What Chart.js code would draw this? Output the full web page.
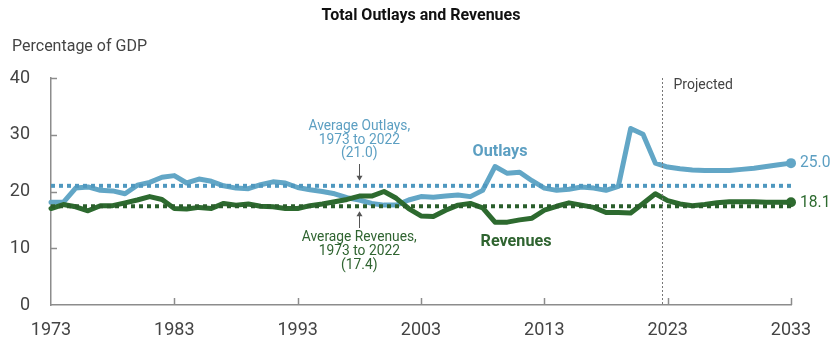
<!DOCTYPE html>
<html>
<head>
<meta charset="utf-8">
<script src="https://cdn.jsdelivr.net/npm/chart.js@4"></script>
<style>
  html, body { margin: 0; padding: 0; background: #fff; }
  #wrap { width: 834px; height: 345px; position: relative; }
</style>
</head>
<body>
<div id="wrap"><canvas id="c" width="834" height="345"></canvas></div>
<script>
// Federal outlays and revenues as a share of GDP, actual 1973-2022, projected 2023-2033
const years = [];
for (let y = 1973; y <= 2033; y++) years.push(y);

const outlays = [
  18.1, 18.1, 20.6, 20.8, 20.2, 20.1, 19.6, 21.1, 21.6, 22.5,
  22.8, 21.5, 22.2, 21.8, 21.0, 20.6, 20.5, 21.2, 21.7, 21.5,
  20.7, 20.3, 20.0, 19.6, 18.9, 18.5, 17.9, 17.6, 17.6, 18.5,
  19.1, 19.0, 19.2, 19.4, 19.1, 20.2, 24.4, 23.2, 23.4, 21.9,
  20.6, 20.2, 20.4, 20.8, 20.6, 20.2, 20.9, 31.1, 30.1, 25.0,
  24.3, 24.0, 23.8, 23.7, 23.7, 23.7, 23.9, 24.1, 24.4, 24.7, 25.0
];

const revenues = [
  17.0, 17.7, 17.3, 16.6, 17.5, 17.5, 18.0, 18.5, 19.1, 18.6,
  17.0, 16.9, 17.2, 17.0, 17.9, 17.6, 17.8, 17.4, 17.3, 17.0,
  17.0, 17.5, 17.8, 18.2, 18.6, 19.2, 19.2, 20.0, 18.8, 17.0,
  15.7, 15.6, 16.7, 17.6, 17.9, 17.1, 14.6, 14.6, 15.0, 15.3,
  16.7, 17.4, 18.0, 17.6, 17.2, 16.3, 16.3, 16.2, 17.9, 19.6,
  18.4, 17.8, 17.5, 17.7, 18.0, 18.2, 18.2, 18.2, 18.1, 18.1, 18.1
];

const avgOutlays = 21.0;
const avgRevenues = 17.4;
const avgSpan = [1973, 2033];
const projectionStart = 2022.5;
const xTicks = [1973, 1983, 1993, 2003, 2013, 2023, 2033];
const yTicks = [0, 10, 20, 30, 40];

const BLUE = '#62a6c6';
const BLUE_TEXT = '#5c9fc2';
const GREEN = '#2d6a2f';
const GREEN_TEXT = '#2f6430';
const AXIS = '#8c8c8c';
const TEXT = '#444444';
const FONT = 'Roboto, sans-serif';

const pts = (vals) => vals.map((v, i) => ({ x: years[i], y: v }));
const lastOnly = (vals) => vals.map((v, i) => (i === vals.length - 1 ? 5 : 0));

// text squeezed horizontally for a condensed look
function narrowText(ctx, s, x, y, sx) {
  ctx.save();
  ctx.translate(x, y);
  ctx.scale(sx, 1);
  ctx.fillText(s, 0, 0);
  ctx.restore();
}

// Inward tick marks, labels, annotations and the projection divider
const decorations = {
  id: 'decorations',
  afterDraw(chart) {
    const ctx = chart.ctx;
    const xs = chart.scales.x, ys = chart.scales.y;
    const area = chart.chartArea;
    ctx.save();

    // tick marks pointing into the plot
    ctx.strokeStyle = AXIS;
    ctx.lineWidth = 1.5;
    xTicks.slice(1).forEach(t => {
      const px = Math.round(xs.getPixelForValue(t)) + 0.5;
      ctx.beginPath(); ctx.moveTo(px, area.bottom); ctx.lineTo(px, area.bottom - 7); ctx.stroke();
    });
    yTicks.slice(1).forEach(t => {
      const py = Math.round(ys.getPixelForValue(t)) + 0.5;
      ctx.beginPath(); ctx.moveTo(area.left, py); ctx.lineTo(area.left + 6, py); ctx.stroke();
    });

    // projection divider
    const dx = Math.round(xs.getPixelForValue(projectionStart)) + 0.5;
    ctx.strokeStyle = '#777';
    ctx.lineWidth = 1;
    ctx.setLineDash([2, 2]);
    ctx.beginPath(); ctx.moveTo(dx, area.top); ctx.lineTo(dx, area.bottom); ctx.stroke();
    ctx.setLineDash([]);

    // title and axis caption
    ctx.fillStyle = '#111';
    ctx.textBaseline = 'middle';
    ctx.textAlign = 'center';
    ctx.font = 'bold 16px ' + FONT;
    ctx.fillText('Total Outlays and Revenues', 421, 16);
    ctx.textAlign = 'left';
    ctx.fillStyle = TEXT;
    ctx.font = '16px ' + FONT;
    ctx.fillText('Percentage of GDP', 12, 47);
    ctx.font = '14px ' + FONT;
    ctx.fillText('Projected', dx + 11, 85);

    // average annotations
    const ax = xs.getPixelForValue(1998);
    ctx.textAlign = 'center';
    ctx.font = '15.5px ' + FONT;
    ctx.fillStyle = BLUE_TEXT;
    ['Average Outlays,', '1973 to 2022', '(21.0)'].forEach((s, i) => narrowText(ctx, s, ax, 126.5 + i * 13.5, 0.89));
    ctx.fillStyle = GREEN_TEXT;
    ['Average Revenues,', '1973 to 2022', '(17.4)'].forEach((s, i) => narrowText(ctx, s, ax, 237.5 + i * 14, 0.89));

    // arrows to the average lines
    const arrow = (x, y0, y1) => {
      const dir = Math.sign(y1 - y0);
      ctx.strokeStyle = '#555'; ctx.fillStyle = '#555'; ctx.lineWidth = 1;
      ctx.beginPath(); ctx.moveTo(x, y0); ctx.lineTo(x, y1 - dir * 3); ctx.stroke();
      ctx.beginPath(); ctx.moveTo(x, y1); ctx.lineTo(x - 3, y1 - dir * 5); ctx.lineTo(x + 3, y1 - dir * 5); ctx.closePath(); ctx.fill();
    };
    const ax0 = Math.round(ax) + 0.5;
    arrow(ax0, 164, ys.getPixelForValue(avgOutlays) - 5);
    arrow(ax0, 228, ys.getPixelForValue(avgRevenues) + 5);

    // series labels
    ctx.font = 'bold 17px ' + FONT;
    ctx.fillStyle = BLUE_TEXT;
    narrowText(ctx, 'Outlays', 500, 152, 0.95);
    ctx.fillStyle = GREEN_TEXT;
    narrowText(ctx, 'Revenues', 516, 242, 0.95);

    // end values
    ctx.textAlign = 'left';
    ctx.font = '17px ' + FONT;
    const ex = xs.getPixelForValue(years[years.length - 1]) + 9;
    ctx.fillStyle = BLUE_TEXT;
    narrowText(ctx, outlays[outlays.length - 1].toFixed(1), ex, ys.getPixelForValue(outlays[outlays.length - 1]), 0.92);
    ctx.fillStyle = GREEN;
    narrowText(ctx, revenues[revenues.length - 1].toFixed(1), ex, ys.getPixelForValue(revenues[revenues.length - 1]), 0.92);

    ctx.restore();
  }
};

new Chart(document.getElementById('c'), {
  type: 'line',
  data: {
    datasets: [
      {
        label: 'Outlays',
        data: pts(outlays),
        borderColor: BLUE, backgroundColor: BLUE,
        borderWidth: 5, pointRadius: lastOnly(outlays), pointBorderWidth: 0,
        borderJoinStyle: 'round', borderCapStyle: 'round', tension: 0, clip: false, order: 3
      },
      {
        label: 'Revenues',
        data: pts(revenues),
        borderColor: GREEN, backgroundColor: GREEN,
        borderWidth: 5, pointRadius: lastOnly(revenues), pointBorderWidth: 0,
        borderJoinStyle: 'round', borderCapStyle: 'round', tension: 0, clip: false, order: 2
      },
      {
        label: 'Average Outlays',
        data: avgSpan.map(x => ({ x, y: avgOutlays })),
        borderColor: '#4f98bf', borderWidth: 4, borderDash: [4, 4],
        pointRadius: 0, tension: 0, clip: false, order: 1
      },
      {
        label: 'Average Revenues',
        data: avgSpan.map(x => ({ x, y: avgRevenues })),
        borderColor: '#2a5e2b', borderWidth: 4, borderDash: [4, 4],
        pointRadius: 0, tension: 0, clip: false, order: 1
      }
    ]
  },
  options: {
    responsive: false,
    animation: false,
    events: [],
    layout: { padding: { top: 78, right: 43, left: 0, bottom: 0 } },
    plugins: { legend: { display: false }, tooltip: { enabled: false }, title: { display: false } },
    scales: {
      x: {
        type: 'linear', min: 1973, max: 2033,
        afterBuildTicks: (s) => { s.ticks = xTicks.map(v => ({ value: v })); },
        afterFit: (s) => { s.height = 40; },
        ticks: { color: TEXT, font: { size: 18, family: FONT }, padding: 15, maxRotation: 0, callback: v => String(v) },
        grid: { drawOnChartArea: false, drawTicks: false },
        border: { color: AXIS, width: 1.5 }
      },
      y: {
        min: 0, max: 40,
        afterBuildTicks: (s) => { s.ticks = yTicks.map(v => ({ value: v })); },
        afterFit: (s) => { s.width = 51; },
        ticks: { color: TEXT, font: { size: 18, family: FONT }, padding: 21 },
        grid: { drawOnChartArea: false, drawTicks: false },
        border: { color: AXIS, width: 1.5 }
      }
    }
  },
  plugins: [decorations]
});
</script>
</body>
</html>
